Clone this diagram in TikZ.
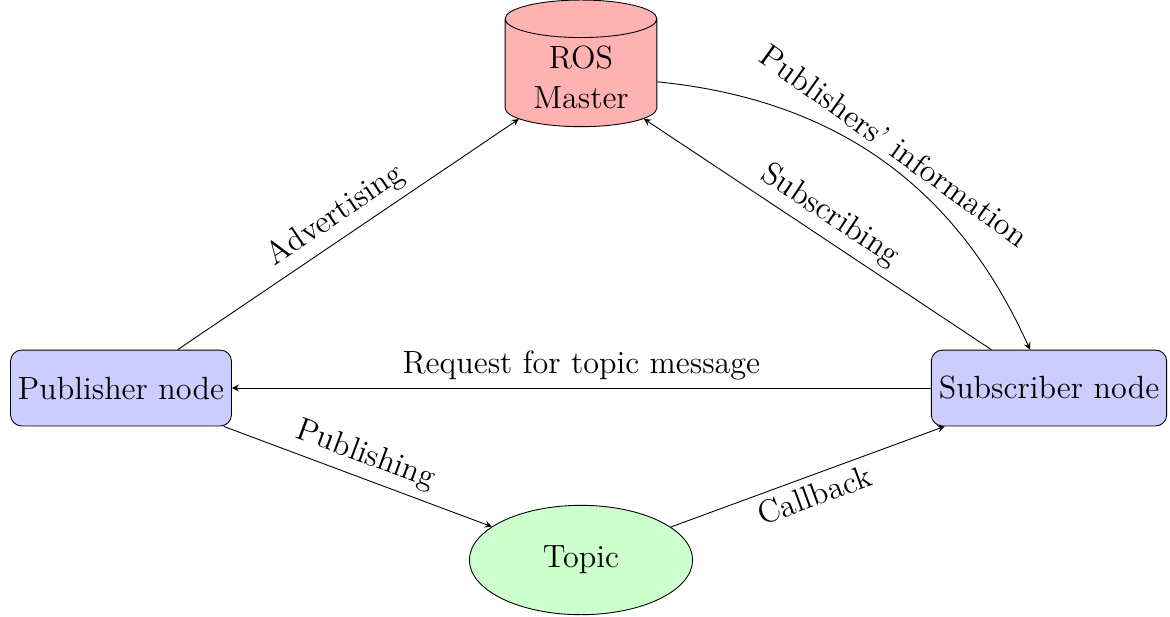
\documentclass[tikz,border=0pt]{standalone}
\usetikzlibrary{shapes.geometric}
\begin{document}
\begin{tikzpicture}[x=0.448pt, y=-0.448pt, >=stealth,
  every node/.style={font=\Large},
  rosnode/.style={draw, rounded corners=5pt, fill=blue!20, minimum height=34pt},
  master/.style={draw, cylinder, shape border rotate=90, aspect=0.34, fill=red!30,
    minimum width=68pt, align=center},
  topic/.style={draw, ellipse, fill=green!20, minimum width=100pt, minimum height=49pt},
  link/.style={->}]
  \useasboundingbox (0,0) rectangle (1170,616);

  \node[master] (ros) at (581,77) {ROS\\Master};
  \node[rosnode] (pub) at (121,388) {Publisher node};
  \node[rosnode] (sub) at (1049,388) {Subscriber node};
  \node[topic] (top) at (581,560) {Topic};

  \draw[link] (pub) -- node[above, sloped] {Advertising} (ros);
  \draw[link] (sub) -- node[above, sloped] {Subscribing} (ros);
  \draw[link] (ros) to[bend left=30] node[above, sloped] {Publishers' information} (sub);
  \draw[link] (sub) -- node[above] {Request for topic message} (pub);
  \draw[link] (pub) -- node[above, sloped] {Publishing} (top);
  \draw[link] (top) -- node[below, sloped] {Callback} (sub);
\end{tikzpicture}
\end{document}
